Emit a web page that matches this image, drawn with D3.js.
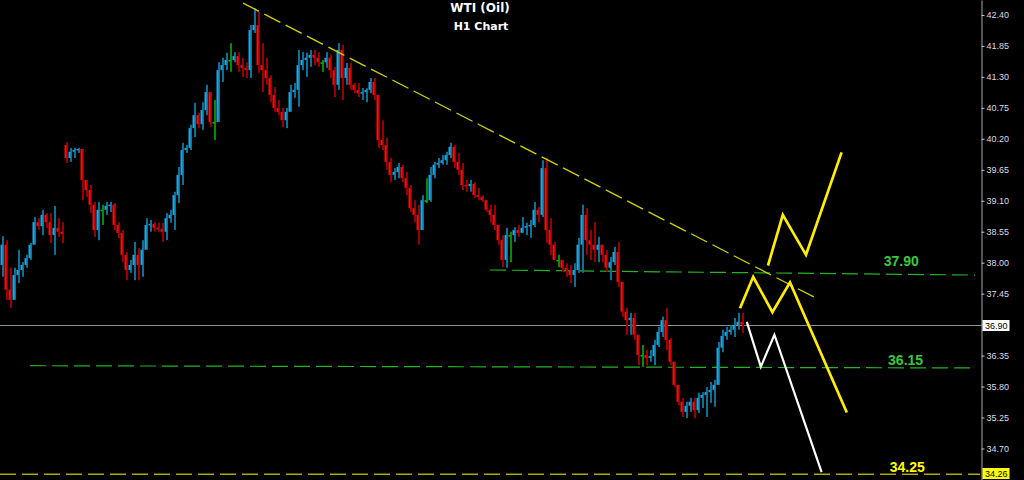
<!DOCTYPE html>
<html>
<head>
<meta charset="utf-8">
<script src="https://cdn.jsdelivr.net/npm/d3@7"></script>
<style>
  html, body { margin: 0; padding: 0; background: #000; overflow: hidden; }
</style>
</head>
<body>
<svg id="chart" width="1024" height="480"></svg>
<script>
// H1 bars, oldest first (price in USD)
const opens = [37.96,38.32,37.52,37.34,37.78,37.87,37.96,38.08,38.32,38.72,38.65,38.85,38.72,38.49,38.62,38.55,
  40.09,39.86,39.97,40.00,40.02,39.47,39.29,39.03,38.58,38.94,38.94,39.01,39.03,38.67,38.53,38.14,37.87,37.96,38.14,37.96,
  38.23,38.67,38.69,38.62,38.60,38.55,38.79,38.85,39.20,39.56,40.00,40.04,40.39,40.62,40.46,40.71,41.03,40.50,40.50,41.42,
  41.51,41.60,41.60,41.67,41.51,41.46,41.42,42.13,42.22,41.51,41.42,41.28,40.98,40.75,40.68,40.53,40.68,41.03,41.07,41.51,
  41.60,41.64,41.69,41.64,41.56,41.56,41.64,41.42,41.16,41.78,41.28,41.46,41.16,41.07,41.01,41.03,41.07,41.21,40.98,40.18,
  40.09,39.79,39.56,39.61,39.70,39.50,39.33,38.97,38.85,38.58,39.11,39.11,39.56,39.74,39.77,39.82,39.91,40.06,39.79,39.65,
  39.38,39.36,39.40,39.20,39.17,39.11,38.94,38.85,38.67,38.40,38.05,38.49,38.49,38.58,38.53,38.62,38.65,38.67,38.94,38.85,
  39.68,38.58,38.32,38.05,38.05,37.91,37.87,37.78,37.87,38.32,38.85,38.40,38.32,38.23,38.32,38.14,37.91,38.01,38.19,37.66,
  37.13,36.98,37.02,36.72,36.36,36.36,36.31,36.34,36.54,36.77,36.98,36.63,36.24,35.83,35.53,35.35,35.46,35.53,35.38,35.60,
  35.65,35.70,35.74,35.83,36.49,36.70,36.77,36.81,36.89,36.95];
const highs = [38.47,38.40,37.91,37.91,38.23,38.01,38.14,38.35,38.81,38.79,38.94,38.88,38.88,39.01,38.79,38.72,
  40.14,40.04,40.04,40.04,39.97,39.43,39.38,39.08,39.08,39.03,39.08,39.08,39.06,38.72,38.58,38.19,38.05,38.37,38.26,38.40,
  38.79,38.76,38.72,38.71,38.71,38.88,38.94,39.26,39.70,40.13,40.09,40.45,40.84,40.66,40.85,41.16,41.03,40.89,41.56,41.64,
  41.73,41.90,41.74,41.74,41.64,41.56,42.22,42.52,42.45,41.90,41.64,41.33,41.12,40.89,40.75,40.75,41.16,41.19,41.78,41.74,
  41.73,41.78,41.78,41.74,41.60,41.74,41.69,41.48,41.90,41.87,41.55,41.55,41.19,41.19,41.10,41.10,41.28,41.28,40.89,40.53,
  40.22,39.86,39.68,39.77,39.74,39.61,39.38,39.11,39.03,39.20,39.50,39.70,39.79,39.86,39.91,39.97,40.13,40.09,39.95,39.77,
  39.47,39.47,39.43,39.33,39.20,39.11,39.03,39.03,38.67,38.49,38.62,38.55,38.63,38.67,38.81,38.71,38.76,39.08,38.99,39.82,
  39.86,38.79,38.37,38.14,38.05,37.99,37.96,37.99,38.44,39.03,38.97,38.58,38.72,38.46,38.26,38.23,38.10,38.28,38.37,37.64,
  37.20,37.11,37.11,36.72,36.54,36.45,36.45,36.63,36.86,37.04,37.20,36.66,36.24,35.83,35.60,35.53,35.60,35.60,35.69,35.70,
  35.79,35.88,35.92,36.59,36.81,36.86,36.89,37.02,37.11,37.11];
const lows = [37.75,37.34,37.20,37.41,37.64,37.75,37.91,38.05,38.32,38.58,38.49,38.62,38.35,38.14,38.46,38.35,
  39.77,39.79,39.86,39.95,39.11,39.17,38.88,38.46,38.40,38.67,38.85,38.90,38.58,38.44,38.01,37.69,37.82,37.69,37.69,37.75,
  38.23,38.55,38.55,38.55,38.37,38.40,38.71,38.58,39.06,39.38,39.95,40.00,40.23,40.39,40.36,40.62,40.41,40.18,40.71,41.21,
  41.42,41.39,41.56,41.39,41.30,41.28,41.28,42.08,41.37,41.03,41.16,40.85,40.68,40.62,40.41,40.39,40.71,40.93,40.77,41.42,
  41.30,41.48,41.51,41.48,41.39,41.46,41.28,40.94,41.07,40.89,41.16,41.07,41.01,40.94,40.89,40.85,41.01,40.89,40.04,40.00,
  39.65,39.43,39.47,39.50,39.43,39.20,38.90,38.72,38.32,38.62,39.06,39.08,39.50,39.68,39.74,39.74,39.86,39.68,39.56,39.29,
  39.26,39.26,39.15,39.11,39.08,38.90,38.71,38.58,38.32,37.92,37.91,38.01,38.37,38.46,38.55,38.49,38.44,38.63,38.72,38.81,
  38.35,38.14,38.05,37.92,37.84,37.75,37.64,37.57,37.82,37.82,38.14,38.05,38.01,38.01,38.01,37.84,37.69,37.96,37.57,37.04,
  36.72,36.72,36.63,36.18,36.15,36.18,36.24,36.18,36.50,36.68,36.45,36.18,35.79,35.47,35.26,35.24,35.35,35.24,35.33,35.42,
  35.26,35.51,35.44,35.86,36.41,36.63,36.72,36.68,36.81,36.75];
const closes = [38.32,37.52,37.34,37.78,37.87,37.96,38.08,38.32,38.72,38.65,38.85,38.72,38.49,38.62,38.55,38.51,
  39.86,39.97,40.00,40.02,39.47,39.29,39.03,38.58,38.94,38.94,39.01,39.03,38.67,38.53,38.14,37.87,37.96,38.14,37.96,38.23,
  38.67,38.69,38.62,38.60,38.55,38.79,38.85,39.20,39.56,40.00,40.04,40.39,40.62,40.46,40.71,41.03,40.50,40.50,41.42,41.51,
  41.60,41.60,41.67,41.51,41.46,41.42,42.13,42.22,41.51,41.42,41.28,40.98,40.75,40.68,40.53,40.68,41.03,41.07,41.51,41.60,
  41.64,41.69,41.64,41.56,41.56,41.64,41.42,41.16,41.78,41.28,41.46,41.16,41.07,41.01,41.03,41.07,41.21,40.98,40.18,40.09,
  39.79,39.56,39.61,39.70,39.50,39.33,38.97,38.85,38.58,39.11,39.11,39.56,39.74,39.77,39.82,39.91,40.06,39.79,39.65,39.38,
  39.36,39.40,39.20,39.17,39.11,38.94,38.85,38.67,38.40,38.05,38.49,38.49,38.58,38.53,38.62,38.65,38.67,38.94,38.85,39.68,
  38.58,38.32,38.05,38.05,37.91,37.87,37.78,37.87,38.32,38.85,38.40,38.32,38.23,38.32,38.14,37.91,38.01,38.19,37.66,37.13,
  36.98,37.02,36.72,36.36,36.36,36.31,36.34,36.54,36.77,36.98,36.63,36.24,35.83,35.53,35.35,35.46,35.53,35.38,35.60,35.65,
  35.70,35.74,35.83,36.49,36.70,36.77,36.81,36.89,36.95,36.90];

// right price scale
const tickValues = [42.40,41.85,41.30,40.75,40.20,39.65,39.10,38.55,38.00,37.45,36.90,36.35,35.80,35.25,34.70];
const currentPrice = 36.90;
const targetPrice = 34.26;

// horizontal levels (green/olive dashed) and their labels
const levelNames = ["37.90", "36.15", "34.25"];
const levelFromBar = [122, 7, -0.5];
const levelToBar = [243.3, 243.3, 244.5];
const levelStartPrice = [37.87, 36.17, 34.24];
const levelEndPrice = [37.78, 36.13, 34.24];
const levelLabelBar = [224.8, 225.9, 226.3];

// falling trend line
const trendBars = [60.25, 203];
const trendPrices = [42.61, 37.39];

// projected paths
const upperBars = [191.5, 195.2, 201, 209.9];
const upperPrices = [37.95, 38.85, 38.14, 39.96];
const middleBars = [184.5, 187.8, 192.6, 197, 211.2];
const middlePrices = [37.19, 37.75, 37.12, 37.65, 35.34];
const lowerBars = [186.2, 189.7, 193.1, 204.9];
const lowerPrices = [36.95, 36.15, 36.72, 34.28];

const W = 1024, H = 480, axisX = 981;
const svg = d3.select("#chart");
svg.append("rect").attr("width", W).attr("height", H).attr("fill", "#000");

const x = d3.scaleLinear().domain([-0.5, 244.5]).range([0, 980]);
const y = d3.scaleLinear().domain([34.14, 42.666]).range([H, 0]);

const bars = closes.map((c, i) => ({i: i, o: opens[i], h: highs[i], l: lows[i], c: c}));

function dir(d) { return d.c > d.o ? "up" : d.c < d.o ? "down" : "flat"; }
const brightColor = {up: "#19a8ec", down: "#ff0a0a", flat: "#00d000"};
const darkColor = {up: "#0e7096", down: "#9a0000", flat: "#078a07"};

// current price line
svg.append("line")
  .attr("x1", 0).attr("x2", axisX)
  .attr("y1", Math.round(y(currentPrice)) + 0.5).attr("y2", Math.round(y(currentPrice)) + 0.5)
  .attr("stroke", "#8e8e98").attr("stroke-width", 1);

// level lines
const lineColors = ["#22b422", "#22b422", "#a8a800"];
levelNames.forEach((name, k) => {
  svg.append("line")
    .attr("x1", x(levelFromBar[k])).attr("x2", x(levelToBar[k]))
    .attr("y1", y(levelStartPrice[k])).attr("y2", y(levelEndPrice[k]))
    .attr("stroke", lineColors[k]).attr("stroke-width", k === 2 ? 1.5 : 1.2)
    .attr("stroke-dasharray", "16,6");
});

// candles: dark shadow strip + bright body
const g = svg.append("g");
g.selectAll(".wick").data(bars).enter().append("rect")
  .attr("class", "wick")
  .attr("x", d => x(d.i))
  .attr("width", 2)
  .attr("y", d => y(Math.max(d.h, d.o, d.c)))
  .attr("height", d => Math.max(1, y(Math.min(d.l, d.o, d.c)) - y(Math.max(d.h, d.o, d.c))))
  .attr("fill", d => darkColor[dir(d)]);
g.selectAll(".body").data(bars).enter().append("rect")
  .attr("class", "body")
  .attr("x", d => x(d.i) - 1.5)
  .attr("width", 2)
  .attr("y", d => y(Math.max(d.o, d.c)))
  .attr("height", d => Math.max(1.5, Math.abs(y(d.o) - y(d.c))))
  .attr("fill", d => brightColor[dir(d)]);

// trend line
svg.append("line")
  .attr("x1", x(trendBars[0])).attr("y1", y(trendPrices[0]))
  .attr("x2", x(trendBars[1])).attr("y2", y(trendPrices[1]))
  .attr("stroke", "#d2d200").attr("stroke-width", 1.3)
  .attr("stroke-dasharray", "18,6");

// projected paths
const path = d3.line().x(d => x(d[0])).y(d => y(d[1]));
svg.append("path").datum(d3.zip(lowerBars, lowerPrices)).attr("d", path)
  .attr("fill", "none").attr("stroke", "#ffffff").attr("stroke-width", 2.2);
svg.append("path").datum(d3.zip(middleBars, middlePrices)).attr("d", path)
  .attr("fill", "none").attr("stroke", "#ffee00").attr("stroke-width", 2.7);
svg.append("path").datum(d3.zip(upperBars, upperPrices)).attr("d", path)
  .attr("fill", "none").attr("stroke", "#ffee00").attr("stroke-width", 2.7);

// level labels
const labelColors = ["#3cc83c", "#3cc83c", "#ffff00"];
levelNames.forEach((name, k) => {
  svg.append("text")
    .attr("x", x(levelLabelBar[k]))
    .attr("y", y(+name) - 2)
    .attr("text-anchor", "middle")
    .attr("font-family", "'Liberation Sans', Arial, sans-serif")
    .attr("font-weight", "bold")
    .attr("font-size", 14)
    .attr("fill", labelColors[k])
    .text(name);
});

// right axis
const axis = svg.append("g")
  .attr("transform", "translate(" + (axisX + 0.5) + ",0)")
  .call(d3.axisRight(y).tickValues(tickValues).tickSize(3).tickSizeOuter(0).tickFormat(d3.format(".2f")));
axis.select(".domain").attr("stroke", "#a8a8a8");
axis.selectAll(".tick line").attr("stroke", "#c8c8c8");
axis.selectAll(".tick text")
  .attr("x", 5)
  .attr("fill", "#dcdce6")
  .attr("font-family", "'Liberation Sans', Arial, sans-serif")
  .attr("font-size", 9);

// price boxes
[[currentPrice, "#ffffff"], [targetPrice, "#ffff00"]].forEach(([p, fill]) => {
  svg.append("rect")
    .attr("x", axisX + 1.5).attr("y", Math.round(y(p)) - 5)
    .attr("width", 27).attr("height", 11)
    .attr("fill", fill);
  svg.append("text")
    .attr("x", axisX + 4).attr("y", Math.round(y(p)) + 4)
    .attr("font-family", "'Liberation Sans', Arial, sans-serif")
    .attr("font-size", 9)
    .attr("fill", "#000")
    .text(p.toFixed(2));
});

// titles
svg.append("text")
  .attr("x", 480).attr("y", 12)
  .attr("text-anchor", "middle")
  .attr("font-family", "'DejaVu Sans', sans-serif")
  .attr("font-weight", "bold").attr("font-size", 12)
  .attr("fill", "#ffffff")
  .text("WTI (Oil)");
svg.append("text")
  .attr("x", 481).attr("y", 30)
  .attr("text-anchor", "middle")
  .attr("font-family", "'DejaVu Sans', sans-serif")
  .attr("font-weight", "bold").attr("font-size", 11)
  .attr("fill", "#ffffff")
  .text("H1 Chart");
</script>
</body>
</html>
